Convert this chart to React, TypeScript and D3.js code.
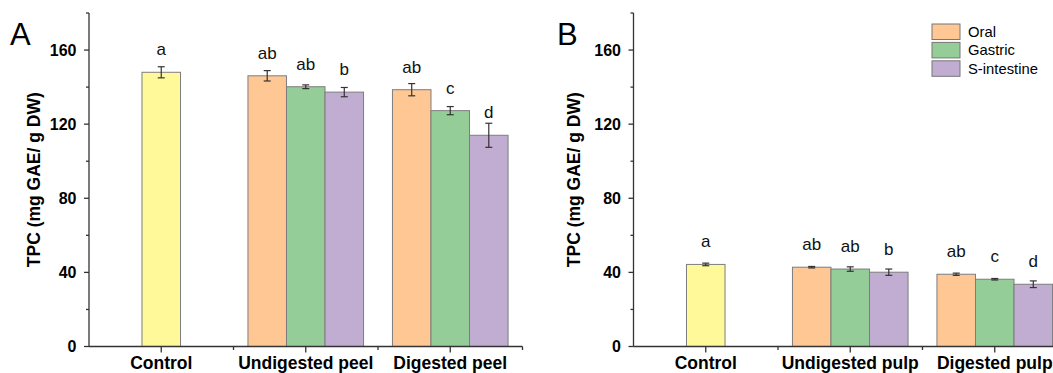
import { useEffect, useRef } from "react"
import * as d3 from "d3"

// phases of the simulated digestion
const phases = ["Oral", "Gastric", "S-intestine"]
const phaseColors = ["#FEC794", "#94CD97", "#C0ADD1"]
const controlColor = "#FFF99A"

// panel A: peel
const peelCategories = ["Control", "Undigested peel", "Digested peel"]
const peelMeans = [[148.0], [146.1, 140.2, 137.3], [138.6, 127.3, 114.0]]
const peelErrors = [[3.0], [2.8, 1.0, 2.5], [3.3, 2.2, 6.5]]
const peelLetters = [["a"], ["ab", "ab", "b"], ["ab", "c", "d"]]

// panel B: pulp
const pulpCategories = ["Control", "Undigested pulp", "Digested pulp"]
const pulpMeans = [[44.3], [42.8, 41.8, 40.1], [39.0, 36.3, 33.6]]
const pulpErrors = [[0.7], [0.4, 1.2, 1.7], [0.6, 0.4, 1.8]]
const pulpLetters = [["a"], ["ab", "ab", "b"], ["ab", "c", "d"]]

const yMajorTicks = [0, 40, 80, 120, 160]
const yMinorTicks = [20, 60, 100, 140, 180]
const yTitle = "TPC (mg GAE/ g DW)"

const FONT = "'Liberation Sans', Arial, Helvetica, sans-serif"
const AXIS = "#333"

export default function App() {
  const svgRef = useRef<SVGSVGElement>(null)

  useEffect(() => {
    if (!svgRef.current) return
    const root = d3.select(svgRef.current)
    root.selectAll("*").remove()

    const y = d3.scaleLinear().domain([0, 180]).range([346.5, 13])
    const step = 144.5

    const drawPanel = (
      axisX: number,
      label: string,
      labelX: number,
      titleX: number,
      categories: string[],
      means: number[][],
      errors: number[][],
      letters: string[][],
    ) => {
      const g = root.append("g")
      const x = d3.scaleLinear().domain([0.5, 3.5]).range([axisX, axisX + 3 * step])
      const inner = d3.scaleBand().domain(phases).range([-step * 0.4, step * 0.4]).padding(0)
      const bw = inner.bandwidth()

      categories.forEach((cat, i) => {
        const vals = means[i]
        vals.forEach((v, j) => {
          const cx = vals.length === 1 ? x(i + 1) - bw / 2 : x(i + 1) + (inner(phases[j]) ?? 0)
          const fill = vals.length === 1 ? controlColor : phaseColors[j]
          const mid = cx + bw / 2
          g.append("rect")
            .attr("x", cx)
            .attr("y", y(v))
            .attr("width", bw)
            .attr("height", y(0) - y(v))
            .attr("fill", fill)
            .attr("stroke", "#7d7d7d")
            .attr("stroke-width", 1)

          // error bar
          const e = errors[i][j]
          const eb = g.append("g").attr("stroke", AXIS).attr("stroke-width", 1.2)
          eb.append("line").attr("x1", mid).attr("x2", mid).attr("y1", y(v + e)).attr("y2", y(v - e))
          eb.append("line").attr("x1", mid - 3.5).attr("x2", mid + 3.5).attr("y1", y(v + e)).attr("y2", y(v + e))
          eb.append("line").attr("x1", mid - 3.5).attr("x2", mid + 3.5).attr("y1", y(v - e)).attr("y2", y(v - e))

          // significance letter
          g.append("text")
            .attr("x", mid)
            .attr("y", y(v) - 17)
            .attr("text-anchor", "middle")
            .attr("fill", "#111")
            .style("font-family", FONT)
            .style("font-size", "17px")
            .text(letters[i][j])
        })
      })

      // y axis
      g.append("line")
        .attr("x1", axisX).attr("x2", axisX)
        .attr("y1", y(180)).attr("y2", y(0))
        .attr("stroke", AXIS).attr("stroke-width", 1.3)
      yMajorTicks.forEach((t) => {
        g.append("line")
          .attr("x1", axisX - 5).attr("x2", axisX)
          .attr("y1", y(t)).attr("y2", y(t))
          .attr("stroke", AXIS).attr("stroke-width", 1.3)
        g.append("text")
          .attr("x", axisX - 12.5)
          .attr("y", y(t))
          .attr("dy", "0.36em")
          .attr("text-anchor", "end")
          .attr("fill", "#000")
          .style("font-family", FONT)
          .style("font-weight", "bold")
          .style("font-size", "16px")
          .text(t)
      })
      yMinorTicks.forEach((t) => {
        g.append("line")
          .attr("x1", axisX - 3).attr("x2", axisX)
          .attr("y1", y(t)).attr("y2", y(t))
          .attr("stroke", AXIS).attr("stroke-width", 1.3)
      })

      // x axis
      g.append("line")
        .attr("x1", x(0.5)).attr("x2", x(3.5))
        .attr("y1", y(0)).attr("y2", y(0))
        .attr("stroke", AXIS).attr("stroke-width", 1.3)
      categories.forEach((cat, i) => {
        g.append("line")
          .attr("x1", x(i + 1)).attr("x2", x(i + 1))
          .attr("y1", y(0)).attr("y2", y(0) + 6)
          .attr("stroke", AXIS).attr("stroke-width", 1.3)
        g.append("line")
          .attr("x1", x(i + 1.5)).attr("x2", x(i + 1.5))
          .attr("y1", y(0)).attr("y2", y(0) + 3.5)
          .attr("stroke", AXIS).attr("stroke-width", 1.3)
        g.append("text")
          .attr("x", x(i + 1))
          .attr("y", 369)
          .attr("text-anchor", "middle")
          .attr("fill", "#000")
          .style("font-family", FONT)
          .style("font-weight", "bold")
          .style("font-size", "17.5px")
          .text(cat)
      })

      // axis title
      g.append("text")
        .attr("transform", `translate(${titleX},${y(90)}) rotate(-90)`)
        .attr("text-anchor", "middle")
        .attr("fill", "#000")
        .style("font-family", FONT)
        .style("font-weight", "bold")
        .style("font-size", "17.5px")
        .text(yTitle)

      // panel letter
      g.append("text")
        .attr("x", labelX)
        .attr("y", 45)
        .attr("fill", "#000")
        .style("font-family", FONT)
        .style("font-size", "31px")
        .text(label)
    }

    drawPanel(89, "A", 10, 39.5, peelCategories, peelMeans, peelErrors, peelLetters)
    drawPanel(633.5, "B", 557, 579.5, pulpCategories, pulpMeans, pulpErrors, pulpLetters)

    // legend
    const legend = root.append("g").attr("transform", "translate(932,24)")
    phases.forEach((p, i) => {
      const item = legend.append("g").attr("transform", `translate(0,${i * 18.4})`)
      item.append("rect")
        .attr("width", 28)
        .attr("height", 15.5)
        .attr("fill", phaseColors[i])
        .attr("stroke", "#777")
        .attr("stroke-width", 1)
      item.append("text")
        .attr("x", 36)
        .attr("y", 12.7)
        .attr("fill", "#000")
        .style("font-family", FONT)
        .style("font-size", "14.8px")
        .text(p)
    })
  }, [])

  return (
    <div style={{ position: "absolute", left: 0, top: 0, width: 1053, height: 373, background: "#fff" }}>
      <svg ref={svgRef} width={1053} height={373} style={{ display: "block" }}></svg>
    </div>
  )
}
